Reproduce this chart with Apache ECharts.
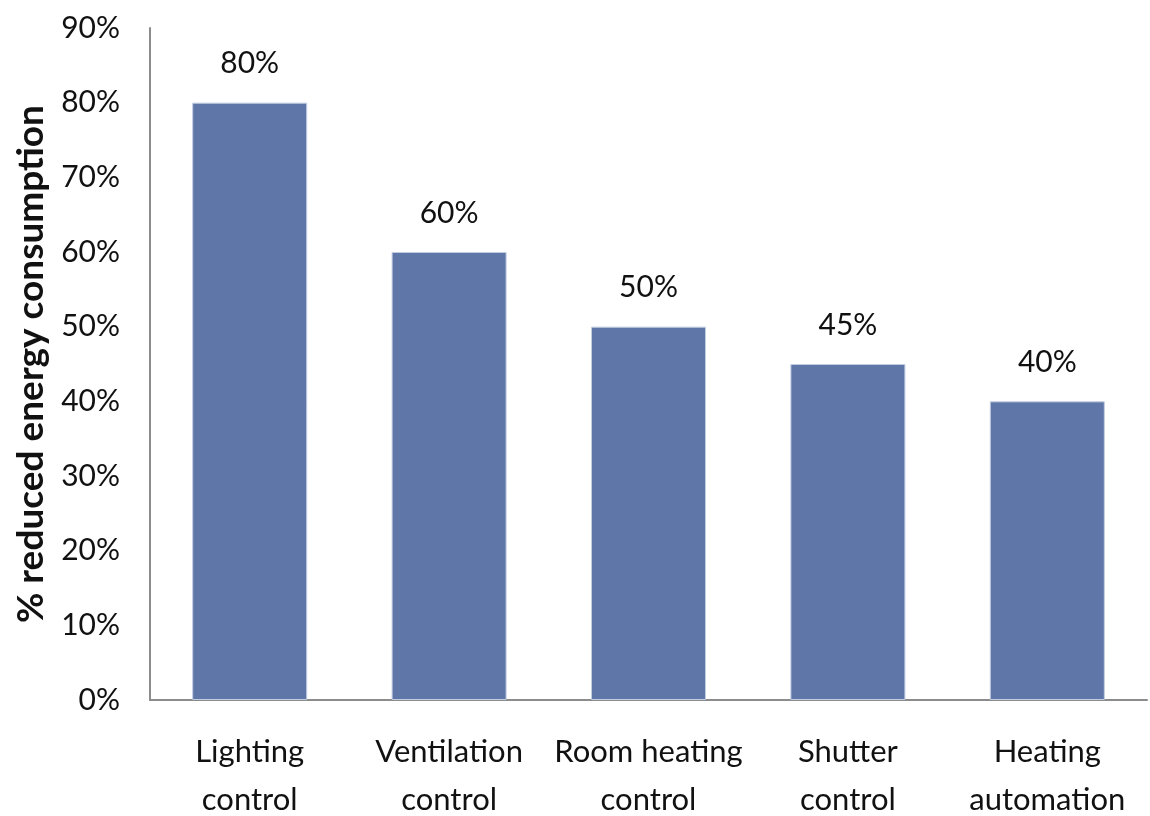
<!DOCTYPE html>
<html>
<head>
<meta charset="utf-8">
<script src="https://cdn.jsdelivr.net/npm/echarts@6/dist/echarts.min.js"></script>
<style>
html,body{margin:0;padding:0;background:#fff;}
#chart{width:1150px;height:816px;}
</style>
</head>
<body>
<div id="chart"></div>
<script>
const categories = ['Lighting\ncontrol', 'Ventilation\ncontrol', 'Room heating\ncontrol', 'Shutter\ncontrol', 'Heating\nautomation'];
const values = [80, 60, 50, 45, 40];
const yAxisTitle = '% reduced energy consumption';

const chart = echarts.init(document.getElementById('chart'));
const FONT = 'Lato';
chart.setOption({
  animation: false,
  grid: { left: 150, right: 3, top: 28, bottom: 116, containLabel: false, outerBoundsMode: 'none' },
  xAxis: {
    type: 'category',
    data: categories,
    axisLine: { show: true, lineStyle: { color: '#8c8c8c', width: 2 } },
    axisTick: { show: false },
    axisLabel: { interval: 0, color: '#111', fontFamily: FONT, fontSize: 31, lineHeight: 48, margin: 28 }
  },
  yAxis: {
    type: 'value',
    min: 0, max: 90, interval: 10,
    name: yAxisTitle,
    nameLocation: 'middle',
    nameGap: 100,
    nameRotate: 90,
    nameTextStyle: { color: '#111', fontFamily: FONT, fontSize: 37, fontWeight: 'bold' },
    axisLine: { show: true, lineStyle: { color: '#8c8c8c', width: 2 } },
    axisTick: { show: false },
    splitLine: { show: false },
    axisLabel: { formatter: '{value}%', color: '#111', fontFamily: FONT, fontSize: 30, margin: 30 }
  },
  series: [{
    type: 'bar',
    data: values,
    barWidth: 115,
    itemStyle: { color: '#5e76a8', borderColor: '#c3cde2', borderWidth: 1 },
    label: { show: true, position: 'top', distance: 24, formatter: '{c}%', color: '#111', fontFamily: FONT, fontSize: 30 }
  }]
});
</script>
</body>
</html>
